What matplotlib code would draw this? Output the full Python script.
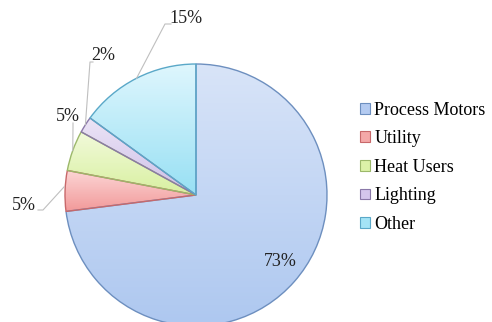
import matplotlib.pyplot as plt
import matplotlib.colors as mcolors
import numpy as np

# energy use split
labels = ['Process Motors', 'Utility', 'Heat Users', 'Lighting', 'Other']
shares = [73, 5, 5, 2, 15]
pct_text = ['73%', '5%', '5%', '2%', '15%']

# light/dark ends of each slice gradient, plus outline colour
top_cols = ['#d8e4f8', '#fcd6d6', '#f2fadb', '#ece4f6', '#def6fd']
bot_cols = ['#aec8f0', '#f29a9a', '#d8f0a0', '#cdbfe8', '#98e0f4']
edge_cols = ['#6d8fbf', '#c8686a', '#9cb86a', '#8a78a8', '#5aa8c8']
legend_cols = ['#b4cbf1', '#f4a8a8', '#dcf2a8', '#d4c6ec', '#a4e4f6']

plt.rcParams['font.family'] = ['Liberation Serif', 'DejaVu Serif']

fig = plt.figure(figsize=(4.92, 3.22), dpi=100)
ax = fig.add_axes([0, 0, 1, 1])

cx, cy, R = 196, 127, 131
wedges, _ = ax.pie(shares, startangle=90, counterclock=False,
                   center=(cx, cy), radius=R, frame=True,
                   colors=legend_cols,
                   wedgeprops=dict(linewidth=1.0))
ax.set_xlim(0, 492)
ax.set_ylim(0, 322)
ax.set_aspect('equal')
ax.axis('off')

# vertical gradient clipped to each wedge
for w, c0, c1, ec in zip(wedges, top_cols, bot_cols, edge_cols):
    w.set_edgecolor(ec)
    bb = w.get_path().get_extents(w.get_transform()).transformed(ax.transData.inverted())
    g = np.linspace(0, 1, 64)[:, None]
    cmap = mcolors.LinearSegmentedColormap.from_list('g', [c0, c1])
    im = ax.imshow(np.repeat(g, 2, axis=1), cmap=cmap, aspect='auto',
                   extent=(bb.x0, bb.x1, bb.y0, bb.y1), origin='upper',
                   zorder=w.get_zorder() - 0.1, interpolation='bilinear')
    im.set_clip_path(w)
    w.set_facecolor('none')
    w.set_zorder(2)
ax.set_xlim(0, 492)
ax.set_ylim(0, 322)

def edge_point(w):
    mid = np.deg2rad((w.theta1 + w.theta2) / 2)
    return cx + R * np.cos(mid), cy + R * np.sin(mid)

lc = '#bfbfbf'
fs = 13

# 73% inside the big slice
ax.text(280, 60, pct_text[0], fontsize=fs, ha='center', va='center', color='#222222')

# Utility
px, py = edge_point(wedges[1])
ax.plot([px - 1, 43, 38], [py + 4, 112, 112], color=lc, lw=0.8)
ax.text(24, 116, pct_text[1], fontsize=fs, ha='center', va='center', color='#222222')

# Heat Users
px, py = edge_point(wedges[2])
ax.plot([px, 73, 73], [py, 195, 199], color=lc, lw=0.8)
ax.text(68, 206, pct_text[2], fontsize=fs, ha='center', va='center', color='#222222')

# Lighting
px, py = edge_point(wedges[3])
ax.plot([px, 90, 93], [py, 260, 260], color=lc, lw=0.8)
ax.text(103, 267, pct_text[3], fontsize=fs, ha='center', va='center', color='#222222')

# Other
px, py = edge_point(wedges[4])
ax.plot([px, 165, 171], [py, 298, 298], color=lc, lw=0.8)
ax.text(186, 304, pct_text[4], fontsize=fs, ha='center', va='center', color='#222222')

handles = [plt.Rectangle((0, 0), 1, 1, facecolor=fc, edgecolor=ec, lw=0.8)
           for fc, ec in zip(legend_cols, edge_cols)]
ax.legend(handles, labels, loc='upper left', bbox_to_anchor=(0.713, 0.712),
          frameon=False, fontsize=fs, handlelength=0.55, handleheight=0.55,
          handletextpad=0.25, labelspacing=0.64, borderpad=0)

fig.savefig('out.png', dpi=100)
